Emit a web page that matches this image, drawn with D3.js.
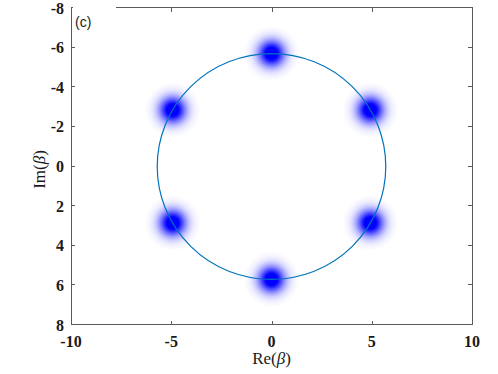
<!DOCTYPE html>
<html>
<head>
<meta charset="utf-8">
<script src="https://cdn.jsdelivr.net/npm/d3@7"></script>
<style>
  body { margin: 0; background: #fff; }
  svg { display: block; }
  .tick-label { font-family: "Liberation Serif", "Times New Roman", serif; font-weight: 700; font-size: 16px; fill: #1a1a1a; }
  .axis-label { font-family: "Liberation Serif", "Times New Roman", serif; font-size: 17px; fill: #1a1a1a; }
</style>
</head>
<body>
<div id="chart"></div>
<script>
// axis ticks
const xTicks = [-10, -5, 0, 5, 10];
const yTicks = [-8, -6, -4, -2, 0, 2, 4, 6, 8];

// peak centres (Re, Im)
const peakRe = [0, 4.93, 4.93, 0, -4.93, -4.93];
const peakIm = [-5.7, -2.85, 2.85, 5.7, 2.85, -2.85];
const peakWidth = 0.45;   // gaussian sigma, data units
const ringRadius = 5.7;

const W = 498, H = 374;
const box = { left: 71, right: 472, top: 8, bottom: 325 };

const svg = d3.select("#chart").append("svg")
  .attr("width", W)
  .attr("height", H);

const x = d3.scaleLinear().domain([-10, 10]).range([box.left, box.right]);
const y = d3.scaleLinear().domain([-8, 8]).range([box.top, box.bottom]);

// gaussian blob as radial gradient (colour saturates near the centre)
const defs = svg.append("defs");
const grad = defs.append("radialGradient").attr("id", "blob");
const stops = d3.range(0, 1.0001, 0.04);
grad.selectAll("stop")
  .data(stops)
  .join("stop")
    .attr("offset", t => t)
    .attr("stop-color", "#0000ff")
    .attr("stop-opacity", t => Math.min(1, 1.25 * Math.exp(-Math.pow(3 * t, 2) / 2)));

const blobs = peakRe.map((re, i) => ({ re, im: peakIm[i] }));
svg.append("g")
  .selectAll("circle")
  .data(blobs)
  .join("circle")
    .attr("cx", d => x(d.re))
    .attr("cy", d => y(d.im))
    .attr("r", x(3 * peakWidth) - x(0))
    .attr("fill", "url(#blob)");

// ring
svg.append("ellipse")
  .attr("cx", x(0))
  .attr("cy", y(0))
  .attr("rx", x(ringRadius) - x(0))
  .attr("ry", y(ringRadius) - y(0))
  .attr("fill", "none")
  .attr("stroke", "#0072BD")
  .attr("stroke-width", 1.2);

// frame
const frame = svg.append("g").attr("stroke", "#5a5a5a").attr("stroke-width", 1).attr("fill", "none");
frame.append("rect")
  .attr("x", box.left + 0.5)
  .attr("y", box.top - 0.5)
  .attr("width", box.right - box.left)
  .attr("height", box.bottom - box.top);

const tk = 4;
frame.selectAll("line.xb")
  .data(xTicks)
  .join("line")
    .attr("x1", d => Math.round(x(d)) + 0.5).attr("x2", d => Math.round(x(d)) + 0.5)
    .attr("y1", box.bottom).attr("y2", box.bottom - tk);
frame.selectAll("line.xt")
  .data(xTicks)
  .join("line")
    .attr("x1", d => Math.round(x(d)) + 0.5).attr("x2", d => Math.round(x(d)) + 0.5)
    .attr("y1", box.top).attr("y2", box.top + tk);
frame.selectAll("line.yl")
  .data(yTicks)
  .join("line")
    .attr("y1", d => Math.round(y(d)) - 0.5).attr("y2", d => Math.round(y(d)) - 0.5)
    .attr("x1", box.left).attr("x2", box.left + tk);
frame.selectAll("line.yr")
  .data(yTicks)
  .join("line")
    .attr("y1", d => Math.round(y(d)) - 0.5).attr("y2", d => Math.round(y(d)) - 0.5)
    .attr("x1", box.right).attr("x2", box.right - tk);

// tick labels
svg.append("g")
  .selectAll("text")
  .data(xTicks)
  .join("text")
    .attr("class", "tick-label")
    .attr("x", d => x(d))
    .attr("y", box.bottom + 22)
    .attr("text-anchor", "middle")
    .text(d => d);

svg.append("g")
  .selectAll("text")
  .data(yTicks)
  .join("text")
    .attr("class", "tick-label")
    .attr("x", box.left - 7)
    .attr("y", d => y(d) + 5.5)
    .attr("text-anchor", "end")
    .text(d => d);

// axis labels
const xl = svg.append("text")
  .attr("class", "axis-label")
  .attr("x", x(0))
  .attr("y", 364)
  .attr("text-anchor", "middle");
xl.append("tspan").text("Re(");
xl.append("tspan").attr("font-style", "italic").text("β");
xl.append("tspan").text(")");

const yl = svg.append("text")
  .attr("class", "axis-label")
  .attr("transform", `translate(45,${y(0) + 3}) rotate(-90)`)
  .attr("text-anchor", "middle");
yl.append("tspan").text("Im(");
yl.append("tspan").attr("font-style", "italic").text("β");
yl.append("tspan").text(")");

// panel tag with white background
svg.append("rect")
  .attr("x", box.left + 2)
  .attr("y", box.top - 2)
  .attr("width", 43)
  .attr("height", 24)
  .attr("fill", "#fff");
svg.append("text")
  .attr("x", box.left + 4)
  .attr("y", 27)
  .attr("font-family", "Liberation Sans, Arial, sans-serif")
  .attr("font-size", 14)
  .attr("fill", "#1a1a1a")
  .text("(c)");
</script>
</body>
</html>
